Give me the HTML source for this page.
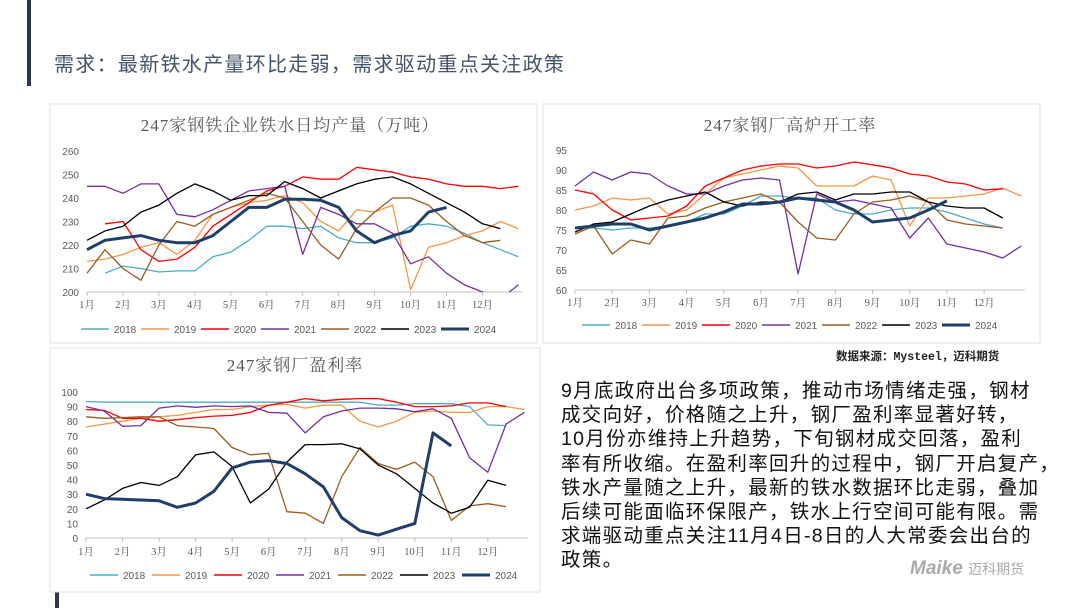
<!DOCTYPE html>
<html><head><meta charset="utf-8">
<style>
body{margin:0;width:1080px;height:608px;background:#fff;overflow:hidden;font-family:"Liberation Sans","Noto Sans CJK SC",sans-serif;}
#page{position:relative;width:1080px;height:608px;}
.bar{position:absolute;background:#2e3650;}
#title{position:absolute;left:54px;top:48px;font-size:20px;color:#44546a;letter-spacing:1.3px;white-space:nowrap;}
#src{position:absolute;left:836px;top:348px;font-size:11.5px;font-weight:bold;color:#222;font-family:"Liberation Mono","Noto Sans CJK SC",monospace;}
#body{position:absolute;left:561px;top:379px;width:500px;font-size:19.5px;line-height:24.2px;color:#111;letter-spacing:1.3px;white-space:nowrap;}
#logo{position:absolute;left:910px;top:558px;font-size:19px;font-weight:bold;font-style:italic;color:#aaa;}
#logo span{font-size:14px;font-style:normal;font-weight:normal;}
svg{position:absolute;left:0;top:0;}
</style></head><body>
<div id="page">
<div class="bar" style="left:27px;top:0;width:4px;height:86px"></div>
<div class="bar" style="left:55px;top:592px;width:4px;height:16px"></div>
<div id="title">需求：最新铁水产量环比走弱，需求驱动重点关注政策</div>
<svg id="svg" width="1080" height="608"></svg>
<div id="src">数据来源：Mysteel，迈科期货</div>
<div id="body">9月底政府出台多项政策，推动市场情绪走强，钢材<br>成交向好，价格随之上升，钢厂盈利率显著好转，<br>10月份亦维持上升趋势，下旬钢材成交回落，盈利<br>率有所收缩。在盈利率回升的过程中，钢厂开启复产，<br>铁水产量随之上升，最新的铁水数据环比走弱，叠加<br>后续可能面临环保限产，铁水上行空间可能有限。需<br>求端驱动重点关注11月4日-8日的人大常委会出台的<br>政策。</div>
<div id="logo">Maike <span>迈科期货</span></div>
</div>
<script>
const months=["1月","2月","3月","4月","5月","6月","7月","8月","9月","10月","11月","12月"];
const years=["2018","2019","2020","2021","2022","2023","2024"];
const colors=["#4bacc6","#f79646","#ff0000","#7030a0","#9c5b1e","#000000","#1f3f68"];
const n=null;
// Chart 1: 铁水日均产量 (half-month samples)
const iron2018=[n,208,211,210,208.5,209,209,215,217,222,228,228,227,228,223,221,221,223,228,229,228,225,221,218,215];
const iron2019=[213,214,216,219,221,216,222,233,236,238,239,241,238,230,226,235,234,237,201,219,221,224,226,230,227];
const iron2020=[n,229,230,218,213,214,219,228,233,238,243,245,249,248,248,253,252,251,249,248,246,245,245,244,245];
const iron2021=[245,245,242,246,246,233,232,235,239,243,244,245,216,236,233,229,229,225,212,215,208,203,200,197,203];
const iron2022=[208,218,210,205,220,230,228,233,236,239,242,240,230,220,214,227,234,240,240,237,230,224,221,222,n];
const iron2023=[222,226,228,234,237,242,246,243,239,241,241,247,244,240,243,246,248,249,246,242,238,234,229,227,n];
const iron2024=[218,222,223,224,222,221,221,224,230,236,236,239.5,239.5,239,236,226,221,224,226,234,236,n,n,n,n];
const ironTicks=[200,210,220,230,240,250,260];
// Chart 2: 高炉开工率
const rate2018=[75.5,75.5,75,75.5,75.5,76,77,79,79,81,83.5,83.5,83,83,80,79,79,80,80.5,80.5,79.5,78,76.5,75.5,n];
const rate2019=[80,81,83,82.5,83,79,80,84,88,89,90,91,90.5,86,86,86,88.5,87.5,76,83,83,83.5,84,85.5,83.5];
const rate2020=[85,84,80,77.5,78,78.5,81,86,88,90,91,91.5,91.5,90.5,91,92,91.3,90.5,89,88.5,87,86.5,85,85.3,n];
const rate2021=[86,89.5,87.5,89.5,89,86,84,84,86,87.5,88,87.5,64,84,82,82.5,81.5,80.5,73,78,71.5,70.5,69.5,68,71];
const rate2022=[74,76,69,72.5,71.5,78,78.5,80.5,82,83,84,82,77,73,72.5,79,82,82.5,83.5,82,77.5,76.5,76,75.5,n];
const rate2023=[74.5,76.5,77,79,81,82.5,83.5,84.5,82,81,82,82,84,84.5,82.5,84,84,84.5,84.5,82,81,80.5,80.5,78,n];
const rate2024=[75.5,76,76.5,76.5,75,76,77,78,79.5,81.5,81.5,82,83,82.5,82,80,77,77.5,78,80,82.3,n,n,n,n];
const rateTicks=[60,65,70,75,80,85,90,95];
// Chart 3: 盈利率
const prof2018=[93.5,93,93,93,93,93,93,93,93,93,93,93,93,93,93,93,91,91,92,92,92,90,77.5,77,n];
const prof2019=[76,78,80,82,83,84,86,88,88,90,91,91.5,89,91,91,80,76,80,86,87,86,86,90,90,88];
const prof2020=[88,87.5,82,82,80,81,82.5,83.5,84,86,91,93,95.5,94,95,95.5,95.5,93,90,90,90.5,92.5,92.5,90,n];
const prof2021=[90,87,76.5,77,89,90.5,89.5,90.5,90,90.5,86,85.5,72,83,87,89,89,88.5,86.5,88.5,82,55,45,78,86];
const prof2022=[83,82,82.5,83,83,77,76,75,62,57,58,18,17,10,42,62,51,47,52,42,12,22,23.5,21.5,n];
const prof2023=[20,26,34,38,36,42,57,59,49,24,33.5,52,64,64,64.5,61,50,44,34,24,17,21,39.5,36,n];
const prof2024=[30,27,26.5,26,25.5,21,24,32,48,52,53,51,44,35,14,5,2,6,10,72,63,n,n,n,n];
const profTicks=[0,10,20,30,40,50,60,70,80,90,100];

const NS="http://www.w3.org/2000/svg";
const svg=document.getElementById('svg');
function mk(tag,attrs,parent){const e=document.createElementNS(NS,tag);for(const k in attrs)e.setAttribute(k,attrs[k]);(parent||svg).appendChild(e);return e;}

function chart(cfg){
  const g=mk('g',{});
  
  
  const box=mk('rect',{x:cfg.box[0],y:cfg.box[1],width:cfg.box[2],height:cfg.box[3],fill:'#fff',stroke:'#e0e0e0','stroke-width':1},g);
  
  
  const t=mk('text',{x:cfg.titleX,y:cfg.titleY,'text-anchor':'middle','font-size':17,'letter-spacing':1,fill:'#595959','font-family':'"Liberation Serif","Noto Serif CJK SC",serif'},g);
  t.textContent=cfg.title;
  
  
  const x0=cfg.x0,x1=cfg.x1,yTop=cfg.yTop,yBot=cfg.yBot,ymin=cfg.ticks[0],ymax=cfg.ticks[cfg.ticks.length-1];
  const sx=m=>x0+(x1-x0)*m/12.1;
  const sy=v=>yBot-(v-ymin)/(ymax-ymin)*(yBot-yTop);
  cfg.ticks.forEach(v=>{
    const tl=mk('text',{x:x0-8,y:sy(v)+4,'text-anchor':'end','font-size':10,fill:'#595959'},g);
    tl.textContent=v;
    
    
  });
  const ax=mk('line',{x1:x0,y1:yBot,x2:x1,y2:yBot,stroke:'#bfbfbf','stroke-width':1},g);
  
  
  months.forEach((m,i)=>{
    mk('line',{x1:sx(i),y1:yBot,x2:sx(i),y2:yBot+4,stroke:'#bfbfbf'},g);
    const ml=mk('text',{x:sx(i),y:cfg.monthY,'text-anchor':'middle','font-size':10.5,fill:'#595959','font-family':'"Liberation Serif","Noto Serif CJK SC",serif'},g);
    ml.textContent=m;
    
    
  });
  const cp='clip'+cfg.name;
  const c=mk('clipPath',{id:cp},g);mk('rect',{x:x0-2,y:yTop-10,width:x1-x0+6,height:yBot-yTop+10},c);
  cfg.series.forEach((arr,si)=>{
    let d='',pen=false;
    arr.forEach((v,i)=>{if(v===null){pen=false;return;}d+=(pen?'L':'M')+sx(i/2).toFixed(1)+' '+sy(v).toFixed(1);pen=true;});
    const p=mk('path',{d:d,fill:'none',stroke:colors[si],'stroke-width':si===6?3:1.3,'stroke-linejoin':'round','clip-path':'url(#'+cp+')'},g);
    
    
  });
  years.forEach((y,i)=>{
    const lx=cfg.legX+i*cfg.legDx;
    const le=mk('g',{},g);
    
    
    mk('line',{x1:lx,y1:cfg.legY,x2:lx+28,y2:cfg.legY,stroke:colors[i],'stroke-width':i===6?3:1.5},le);
    const lt=mk('text',{x:lx+33,y:cfg.legY+4,'font-size':10,fill:'#595959'},le);
    lt.textContent=y;
  });
}
chart({name:'iron-output-chart',box:[50,104,487,239],title:'247家钢铁企业铁水日均产量（万吨）',titleX:290,titleY:131,x0:87,x1:522,yTop:151,yBot:292,ticks:ironTicks,monthY:308,legX:81,legDx:60,legY:329,
  series:[iron2018,iron2019,iron2020,iron2021,iron2022,iron2023,iron2024]});
chart({name:'blast-furnace-rate-chart',box:[543,104,497,239],title:'247家钢厂高炉开工率',titleX:790,titleY:131,x0:575,x1:1025,yTop:150,yBot:290,ticks:rateTicks,monthY:306,legX:582,legDx:60,legY:325,
  series:[rate2018,rate2019,rate2020,rate2021,rate2022,rate2023,rate2024]});
chart({name:'profit-rate-chart',box:[50,348,490,244],title:'247家钢厂盈利率',titleX:295,titleY:371,x0:86,x1:528,yTop:392,yBot:538,ticks:profTicks,monthY:555,legX:90,legDx:62,legY:575,
  series:[prof2018,prof2019,prof2020,prof2021,prof2022,prof2023,prof2024]});
</script>
</body></html>
